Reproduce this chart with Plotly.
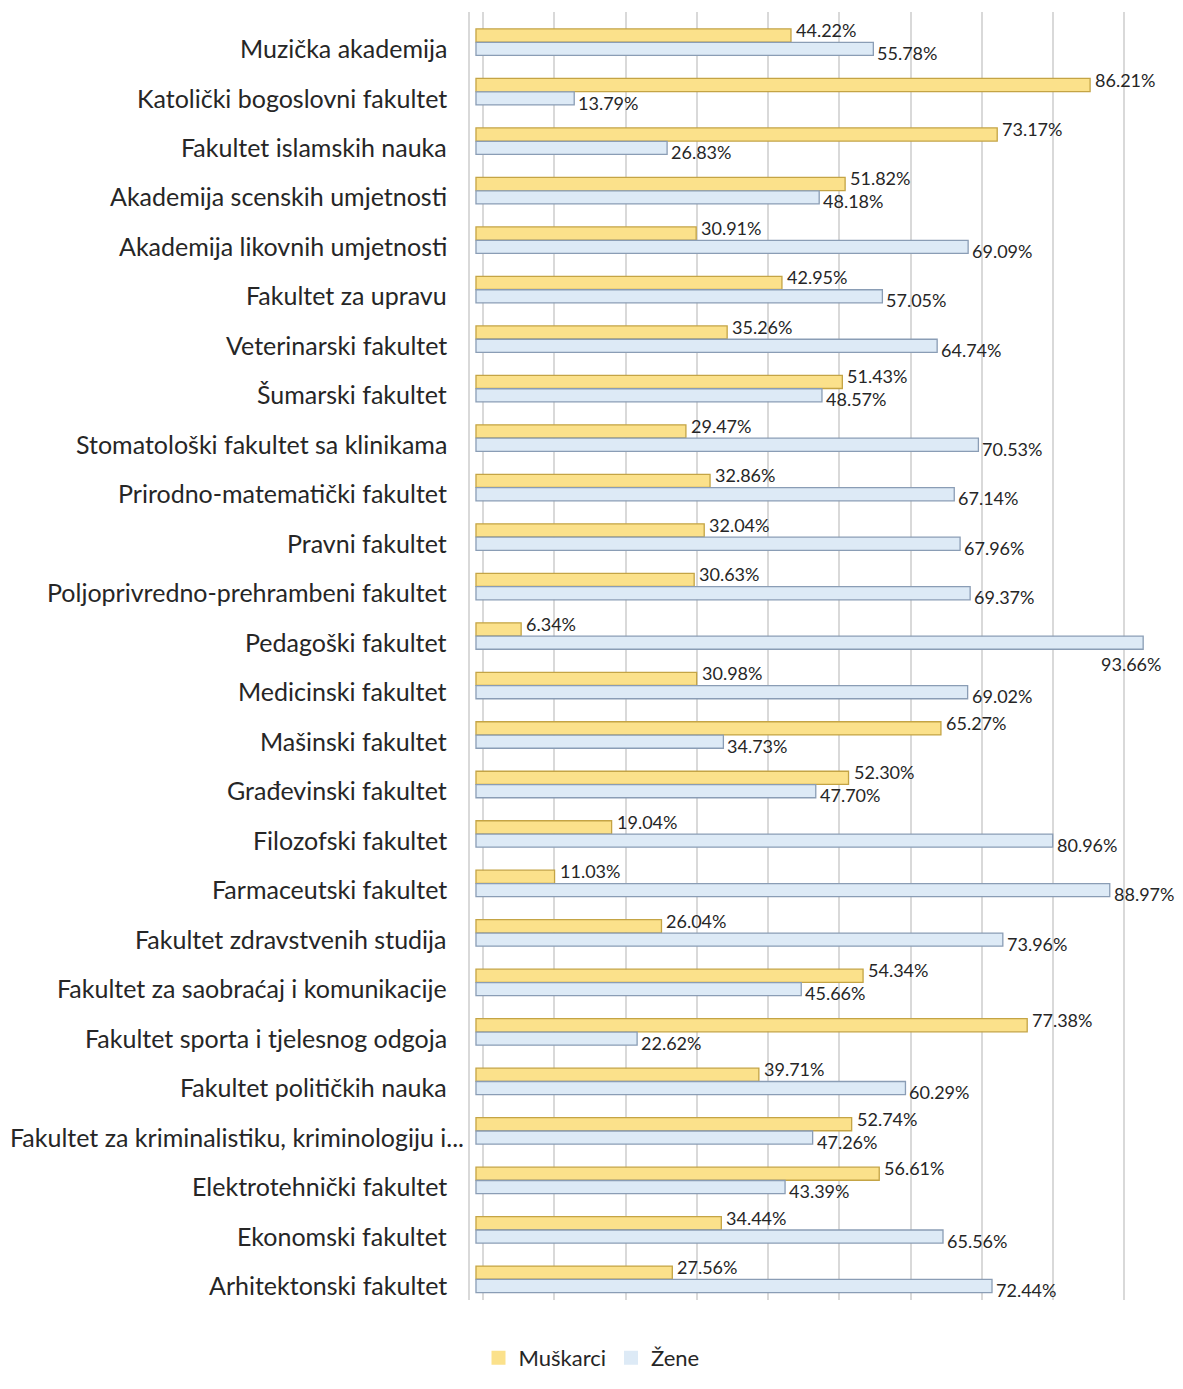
import plotly.graph_objects as go

categories = [
    "Muzička akademija",
    "Katolički bogoslovni fakultet",
    "Fakultet islamskih nauka",
    "Akademija scenskih umjetnosti",
    "Akademija likovnih umjetnosti",
    "Fakultet za upravu",
    "Veterinarski fakultet",
    "Šumarski fakultet",
    "Stomatološki fakultet sa klinikama",
    "Prirodno-matematički fakultet",
    "Pravni fakultet",
    "Poljoprivredno-prehrambeni fakultet",
    "Pedagoški fakultet",
    "Medicinski fakultet",
    "Mašinski fakultet",
    "Građevinski fakultet",
    "Filozofski fakultet",
    "Farmaceutski fakultet",
    "Fakultet zdravstvenih studija",
    "Fakultet za saobraćaj i komunikacije",
    "Fakultet sporta i tjelesnog odgoja",
    "Fakultet političkih nauka",
    "Fakultet za kriminalistiku, kriminologiju i...",
    "Elektrotehnički fakultet",
    "Ekonomski fakultet",
    "Arhitektonski fakultet",
]

muskarci = [44.22, 86.21, 73.17, 51.82, 30.91, 42.95, 35.26, 51.43, 29.47, 32.86,
            32.04, 30.63, 6.34, 30.98, 65.27, 52.30, 19.04, 11.03, 26.04, 54.34,
            77.38, 39.71, 52.74, 56.61, 34.44, 27.56]
zene = [55.78, 13.79, 26.83, 48.18, 69.09, 57.05, 64.74, 48.57, 70.53, 67.14,
        67.96, 69.37, 93.66, 69.02, 34.73, 47.70, 80.96, 88.97, 73.96, 45.66,
        22.62, 60.29, 47.26, 43.39, 65.56, 72.44]

m_vals = [v / 100 for v in muskarci]
z_vals = [v / 100 for v in zene]

FONT = "Lato"
TXT = "#262626"
Y_FILL, Y_EDGE = "#FBE18B", "#C4A445"
B_FILL, B_EDGE = "#DDEAF6", "#8A9DB5"

fig = go.Figure()
fig.add_trace(go.Bar(
    name="Muškarci", y=categories, x=m_vals, orientation="h",
    offset=-0.385, width=0.265, showlegend=False,
    marker=dict(color=Y_FILL, line=dict(color=Y_EDGE, width=1.3)),
))
fig.add_trace(go.Bar(
    name="Žene", y=categories, x=z_vals, orientation="h",
    offset=-0.115, width=0.265, showlegend=False,
    marker=dict(color=B_FILL, line=dict(color=B_EDGE, width=1.3)),
))
# legend entries (solid squares, as in the reference)
fig.add_trace(go.Scatter(name="Muškarci", x=[None], y=[None], mode="markers",
                         marker=dict(symbol="square", size=14, color=Y_FILL,
                                     line=dict(width=0))))
fig.add_trace(go.Scatter(name="Žene", x=[None], y=[None], mode="markers",
                         marker=dict(symbol="square", size=14, color=B_FILL,
                                     line=dict(width=0))))

annotations = []
# category labels, right-aligned left of the axis
for c in categories:
    long_label = c.endswith("...")
    annotations.append(dict(
        x=0, y=c, xref="paper", yref="y", text=c, showarrow=False,
        xanchor="right", yanchor="middle", xshift=-4 if long_label else -21,
        font=dict(family=FONT, size=25, color=TXT),
    ))
for c, m, z in zip(categories, muskarci, zene):
    annotations.append(dict(
        x=m / 100, y=c, xref="x", yref="y", text=f"{m:.2f}%", showarrow=False,
        xanchor="left", yanchor="middle", xshift=3, yshift=18,
        font=dict(family=FONT, size=18, color=TXT),
    ))
    if z > 90:
        annotations.append(dict(
            x=z / 100, y=c, xref="x", yref="y", text=f"{z:.2f}%", showarrow=False,
            xanchor="right", yanchor="middle", xshift=20, yshift=-22,
            font=dict(family=FONT, size=18, color=TXT),
        ))
    else:
        annotations.append(dict(
            x=z / 100, y=c, xref="x", yref="y", text=f"{z:.2f}%", showarrow=False,
            xanchor="left", yanchor="middle", xshift=2, yshift=-5,
            font=dict(family=FONT, size=18, color=TXT),
        ))

fig.update_layout(
    width=1167, height=1371,
    margin=dict(l=462, r=23, t=4, b=79, autoexpand=False),
    paper_bgcolor="white", plot_bgcolor="white",
    barmode="overlay",
    font=dict(family=FONT, size=25, color=TXT),
    annotations=annotations,
    legend=dict(
        orientation="h", x=0.5, xanchor="center", xref="container",
        y=0.0, yanchor="bottom", yref="container",
        font=dict(family=FONT, size=22, color=TXT),
        traceorder="normal", itemwidth=30,
    ),
    showlegend=True,
)
fig.update_xaxes(
    range=[-0.0084, 0.949], tick0=0.01, dtick=0.1, showticklabels=False,
    showgrid=True, gridcolor="#D9D9D9", gridwidth=2,
    zeroline=False, showline=False, automargin=False,
)
fig.update_yaxes(
    type="category", categoryorder="array", categoryarray=categories,
    range=[25.3, -0.728], showgrid=False, showline=True,
    linecolor="#D9D9D9", linewidth=2, ticks="", showticklabels=False,
    automargin=False,
)

fig.write_html("out.html")
